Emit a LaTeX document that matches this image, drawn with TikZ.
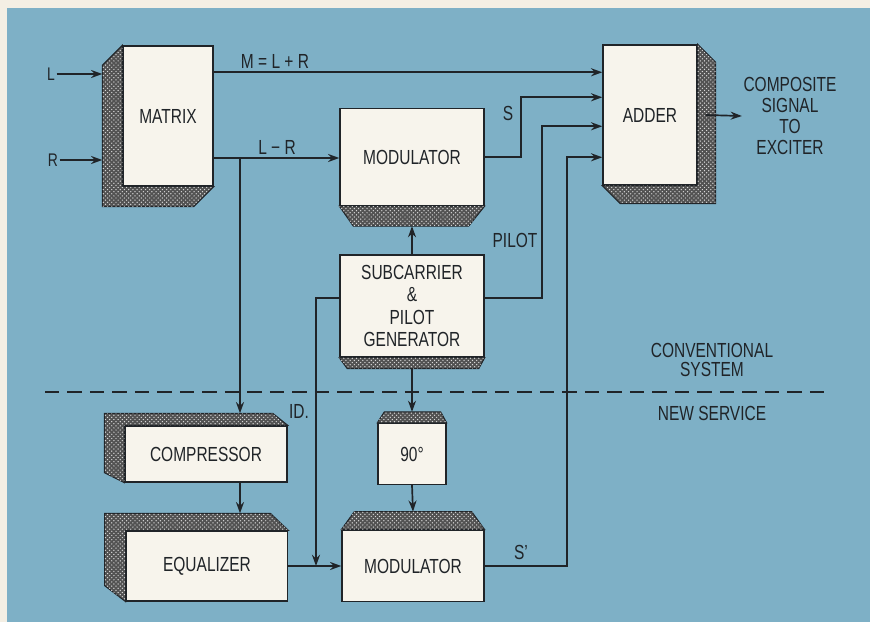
\documentclass[tikz,border=0pt]{standalone}
\usepackage{fontspec}
\setmainfont{Liberation Sans}[FakeStretch=0.76]
\usetikzlibrary{arrows.meta,calc,patterns}
\definecolor{panel}{RGB}{126,176,198}
\definecolor{paper}{RGB}{244,239,228}
\definecolor{card}{RGB}{247,244,236}
\definecolor{ink}{RGB}{32,36,40}
\tikzset{
  >={Stealth[length=2.8mm,width=2mm]},
  box/.style={draw=ink,fill=card,line width=1pt,align=center,inner sep=0pt,
    font=\fontsize{14.5}{16}\selectfont,text=ink},
  face/.style={draw=ink,line width=0.7pt,fill=black!68,
    postaction={pattern=crosshatch dots,pattern color=white!85!black}},
  flow/.style={->,line width=1.2pt,draw=ink},
  tag/.style={font=\fontsize{14.5}{15}\selectfont,text=ink,align=center,inner sep=1pt},
  sep/.style={line width=1.1pt,draw=ink,dash pattern=on 10pt off 6pt},
}

\begin{document}
\begin{tikzpicture}[x=0.025cm,y=-0.025cm]
  \useasboundingbox (0,0) rectangle (870,622);
  \fill[paper] (0,0) rectangle (870,622);
  \fill[panel] (7,8) rectangle (870,622);

  % conventional system
  \node[box,minimum width=2.25cm,minimum height=3.5cm] (mtx) at (168,116) {MATRIX};
  \node[box,minimum width=2.35cm,minimum height=3.5cm] (add) at (650,115) {ADDER};
  \node[box,minimum width=3.6cm,minimum height=2.42cm] (modA) at (412,157) {MODULATOR};
  \node[box,minimum width=3.6cm,minimum height=2.55cm] (sub) at (412,306) {SUBCARRIER\\\&\\PILOT\\GENERATOR};
  % new service
  \node[box,minimum width=4.05cm,minimum height=1.4cm] (cmp) at (206,454) {COMPRESSOR};
  \node[box,minimum width=4.03cm,minimum height=1.75cm] (eq) at (207,566) {EQUALIZER};
  \node[box,minimum width=1.7cm,minimum height=1.52cm] (n90) at (412,454) {90°};
  \node[box,minimum width=3.55cm,minimum height=1.78cm] (modB) at (413,566) {MODULATOR};

  % shaded faces
  \filldraw[face] (mtx.north west) -- ++(-20,20) -- ($(mtx.south west)+(-20,20)$)
    -- ($(mtx.south east)+(-20,20)$) -- (mtx.south east) -- (mtx.south west) -- cycle;
  \filldraw[face] (add.north east) -- ++(18,18) -- ($(add.south east)+(18,18)$)
    -- ($(add.south west)+(18,18)$) -- (add.south west) -- (add.south east) -- cycle;
  \filldraw[face] (modA.south west) -- ++(14,20) -- ($(modA.south east)+(-16,20)$) -- (modA.south east) -- cycle;
  \filldraw[face] (sub.south west) -- ++(8,11) -- ($(sub.south east)+(-6,11)$) -- (sub.south east) -- cycle;
  \filldraw[face] (cmp.south west) -- ++(-20,-10) -- ($(cmp.north west)+(-20,-12)$)
    -- ($(cmp.north east)+(-15,-12)$) -- (cmp.north east) -- (cmp.north west) -- cycle;
  \filldraw[face] (eq.south west) -- ++(-21,-16) -- ($(eq.north west)+(-21,-17)$)
    -- ($(eq.north east)+(-18,-17)$) -- (eq.north east) -- (eq.north west) -- cycle;
  \filldraw[face] (n90.north west) -- ++(7,-11) -- ($(n90.north east)+(-6,-11)$) -- (n90.north east) -- cycle;
  \filldraw[face] (modB.north west) -- ++(13,-18) -- ($(modB.north east)+(-13,-18)$) -- (modB.north east) -- cycle;

  % inputs of the adder
  \path (add.north west) ++(0,28) coordinate (inM) ++(0,25) coordinate (inS)
    ++(0,29) coordinate (inP) ++(0,31) coordinate (inX);
  \coordinate (lr) at (240,158);
  \coordinate (idk) at (316,298);

  \node[tag,font=\fontsize{13}{14}\selectfont] (inL) at (51,74) {L};
  \node[tag,font=\fontsize{13}{14}\selectfont] (inR) at (53,160) {R};
  \draw[flow] (inL.east) -- ($(mtx.west |- inL)+(-20,0)$);
  \draw[flow] (inR.east) -- ($(mtx.west |- inR)+(-20,0)$);

  \draw[flow] (mtx.east |- inM) -- (inM);
  \node[tag] (tM) at (275,61) {M = L + R};
  \draw[flow] (mtx.east |- lr) -- (modA.west |- lr);
  \node[tag] (tLR) at (277,147) {L − R};
  \draw[flow] (lr) -- ($(cmp.north -| lr)+(0,-12)$);
  \draw[flow] (cmp.south -| lr) -- ($(eq.north -| lr)+(0,-17)$);

  \draw[flow] (modA.east) -| ($(inS)+(-81,0)$) -- (inS);
  \node[tag] (tS) at (508,113) {S};
  \draw[flow] (sub.east |- idk) -| ($(inP)+(-60,0)$) -- (inP);
  \node[tag] (tP) at (515,240) {PILOT};
  \draw[flow] (modB.east) -| ($(inX)+(-35,0)$) -- (inX);
  \node[tag] (tS2) at (521,552) {S’};

  \draw[flow] (sub.north) -- ($(modA.south)+(0,20)$);
  \draw[flow] ($(sub.south)+(0,11)$) -- ($(n90.north)+(0,-11)$);
  \draw[flow] (n90.south) -- ($(modB.north)+(0,-18)$);
  \draw[flow] (eq) -- (modB);
  \draw[flow] (sub.west |- idk) -| (idk |- eq.east);
  \node[tag] (tID) at (299,411) {ID.};

  \node[tag] (out) at (790,116) {COMPOSITE\\SIGNAL\\TO\\EXCITER};
  \draw[flow] ($(add.east)+(8,0)$) -- (out.west);

  % boundary
  \coordinate (sepL) at (45,392);
  \coordinate (sepR) at (832,392);
  \draw[sep] (sepL) -- (sepR);
  \node[tag,font=\fontsize{14.5}{14}\selectfont] (conv) at (712,360) {CONVENTIONAL\\SYSTEM};
  \node[tag] (new) at (712,413) {NEW SERVICE};
\end{tikzpicture}
\end{document}
